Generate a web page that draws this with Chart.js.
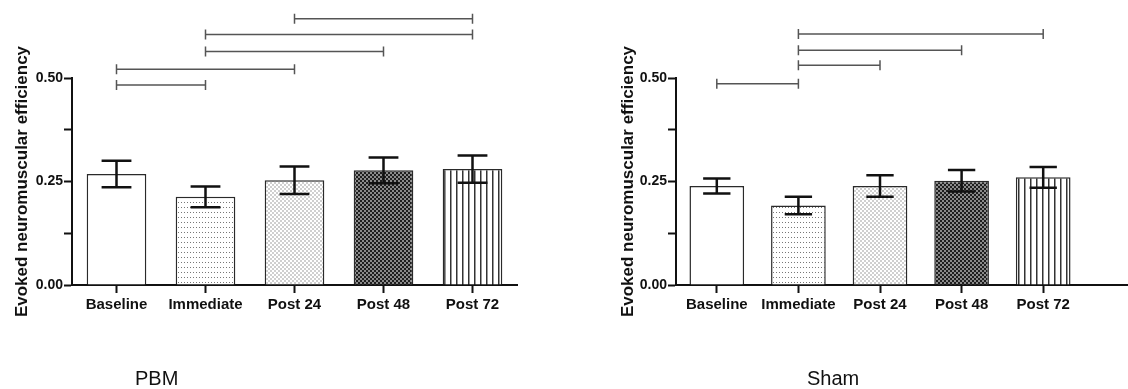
<!DOCTYPE html>
<html>
<head>
<meta charset="utf-8">
<script src="https://cdn.jsdelivr.net/npm/chart.js@4"></script>
<style>
  body { margin: 0; background: #fff; width: 1128px; height: 389px; overflow: hidden; position: relative; }
  canvas { position: absolute; top: 0; }
  .rotulo { position: absolute; top: 368px; font: 20px "Liberation Sans", Arial, sans-serif; line-height: 20px; color: #111; }
</style>
</head>
<body>
<canvas id="graficoPBM" width="530" height="389" style="left:0px"></canvas>
<canvas id="graficoSham" width="524" height="389" style="left:604px"></canvas>
<div class="rotulo" style="left:135px">PBM</div>
<div class="rotulo" style="left:807px">Sham</div>
<script>
// Dados
const categorias = ['Baseline', 'Immediate', 'Post 24', 'Post 48', 'Post 72'];
const pbmMedia = [0.268, 0.213, 0.253, 0.277, 0.280];
const pbmDP = [0.032, 0.025, 0.033, 0.031, 0.033];
const shamMedia = [0.239, 0.192, 0.239, 0.252, 0.260];
const shamDP = [0.018, 0.021, 0.026, 0.026, 0.025];
const yTicks = [0, 0.125, 0.25, 0.375, 0.5];
// comparações significativas: [de, até, nível]
const pbmComparacoes = [[0, 1, 0.483], [0, 2, 0.521], [1, 3, 0.564], [1, 4, 0.605], [2, 4, 0.643]];
const shamComparacoes = [[0, 1, 0.486], [1, 2, 0.531], [1, 3, 0.567], [1, 4, 0.606]];

const fonte = '"Liberation Sans", Arial, sans-serif';

// Padrões de preenchimento das barras
function padrao(w, h, desenha) {
    const c = document.createElement('canvas');
    c.width = w; c.height = h;
    const g = c.getContext('2d');
    g.fillStyle = '#fff';
    g.fillRect(0, 0, w, h);
    desenha(g);
    return document.createElement('canvas').getContext('2d').createPattern(c, 'repeat');
}

const pontos = padrao(3, 5, g => { g.fillStyle = '#777'; g.fillRect(1, 2, 1, 1); });
const xadrezClaro = padrao(4, 4, g => {
    g.fillStyle = '#cfcfcf';
    g.fillRect(0, 0, 2, 2); g.fillRect(2, 2, 2, 2);
});
const xadrezEscuro = padrao(4, 4, g => {
    g.fillStyle = '#8a8a8a'; g.fillRect(0, 0, 4, 4);
    g.fillStyle = '#1e1e1e';
    g.fillRect(0, 0, 2, 2); g.fillRect(2, 2, 2, 2);
});
const listras = padrao(6, 4, g => { g.fillStyle = '#333'; g.fillRect(0, 0, 1.5, 4); });

const preenchimentos = ['#ffffff', pontos, xadrezClaro, xadrezEscuro, listras];

function criarGrafico(id, medias, desvios, comparacoes, padDireita, tituloPad, estenderEixo) {
    const ctx = document.getElementById(id).getContext('2d');

    const extras = {
        id: 'extras',
        afterDraw(chart) {
            const c = chart.ctx;
            const x = chart.scales.x;
            const y = chart.scales.y;
            const meta = chart.getDatasetMeta(0);
            c.save();
            // barras de erro
            c.strokeStyle = '#111';
            c.lineWidth = 2.5;
            meta.data.forEach((bar, i) => {
                const px = bar.x;
                const meia = bar.width * 0.25;
                const yTop = y.getPixelForValue(medias[i] + desvios[i]);
                const yBot = y.getPixelForValue(medias[i] - desvios[i]);
                c.beginPath();
                c.moveTo(px, yTop); c.lineTo(px, yBot);
                c.moveTo(px - meia, yTop); c.lineTo(px + meia, yTop);
                c.moveTo(px - meia, yBot); c.lineTo(px + meia, yBot);
                c.stroke();
            });
            // colchetes de significância
            c.strokeStyle = '#555';
            c.lineWidth = 1.5;
            comparacoes.forEach(([a, b, nivel]) => {
                const x1 = x.getPixelForValue(a);
                const x2 = x.getPixelForValue(b);
                const py = y.getPixelForValue(nivel);
                c.beginPath();
                c.moveTo(x1, py); c.lineTo(x2, py);
                c.moveTo(x1, py - 5); c.lineTo(x1, py + 5);
                c.moveTo(x2, py - 5); c.lineTo(x2, py + 5);
                c.stroke();
            });
            // eixo x continua até a borda (só no Sham)
            if (estenderEixo) {
                c.strokeStyle = '#111';
                c.lineWidth = 2;
                c.beginPath();
                c.moveTo(chart.chartArea.right, chart.chartArea.bottom);
                c.lineTo(chart.width, chart.chartArea.bottom);
                c.stroke();
            }
            c.restore();
        }
    };

    return new Chart(ctx, {
        type: 'bar',
        data: {
            labels: categorias,
            datasets: [{
                data: medias,
                backgroundColor: preenchimentos,
                borderColor: '#2a2a2a',
                borderWidth: 1.5,
                barPercentage: 0.67,
                categoryPercentage: 1
            }]
        },
        options: {
            responsive: false,
            animation: false,
            layout: { padding: { top: 78, right: padDireita, bottom: 0, left: 0 } },
            plugins: { legend: { display: false }, tooltip: { enabled: false } },
            scales: {
                x: {
                    afterFit: s => { s.height = 104; },
                    grid: { display: true, drawOnChartArea: false, offset: false, tickLength: 8, tickColor: '#111', tickWidth: 2 },
                    border: { color: '#111', width: 2 },
                    ticks: { color: '#111', padding: 3, maxRotation: 0, font: { family: fonte, size: 15, weight: 'bold' } }
                },
                y: {
                    min: 0,
                    max: 0.5,
                    afterFit: s => { s.width = 72; },
                    afterBuildTicks: s => { s.ticks = yTicks.map(v => ({ value: v })); },
                    grid: { display: true, drawOnChartArea: false, tickLength: 8, tickColor: '#111', tickWidth: 2 },
                    border: { color: '#111', width: 2 },
                    ticks: {
                        color: '#111',
                        padding: 1,
                        font: { family: fonte, size: 14, weight: 'bold' },
                        callback: v => (Math.abs(v * 4 - Math.round(v * 4)) < 1e-9 ? v.toFixed(2) : '')
                    },
                    title: {
                        display: true,
                        text: 'Evoked neuromuscular efficiency',
                        color: '#111',
                        padding: { top: tituloPad, bottom: 0 },
                        font: { family: fonte, size: 17, weight: 'bold' }
                    }
                }
            }
        },
        plugins: [extras]
    });
}

criarGrafico('graficoPBM', pbmMedia, pbmDP, pbmComparacoes, 13, 12, false);
criarGrafico('graficoSham', shamMedia, shamDP, shamComparacoes, 44, 14, true);
</script>
</body>
</html>
